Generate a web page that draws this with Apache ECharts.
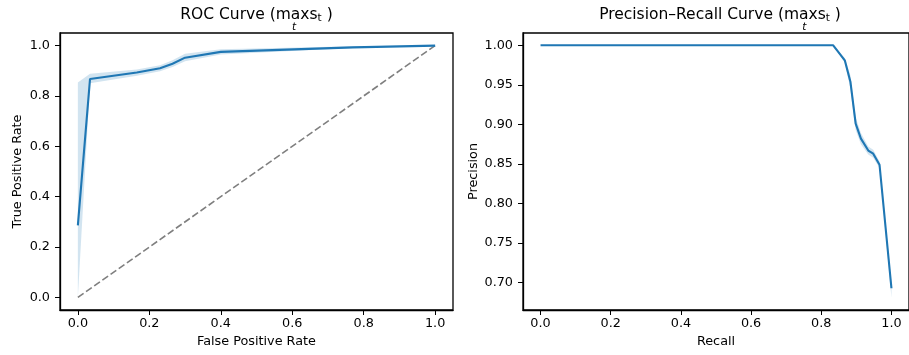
<!DOCTYPE html>
<html>
<head>
<meta charset="utf-8">
<script src="https://cdn.jsdelivr.net/npm/echarts@6/dist/echarts.min.js"></script>
<style>
  html, body {margin: 0; padding: 0; background: #fff;}
  #main {width: 909px; height: 355px;}
</style>
</head>
<body>
<div id="main"></div>
<script>
// ROC curve (mean with std band)
const rocFpr = [0, 0.034, 0.165, 0.23, 0.265, 0.30, 0.40, 0.77, 1.0];
const rocTpr = [0.286, 0.867, 0.893, 0.91, 0.928, 0.952, 0.975, 0.993, 1.0];
const rocLo  = [0.0, 0.85, 0.88, 0.898, 0.915, 0.938, 0.965, 0.99, 1.0];
const rocHi  = [0.853, 0.888, 0.905, 0.922, 0.942, 0.968, 0.985, 0.997, 1.0];
const chance = [[0, 0], [1, 1]];

// Precision-recall curve
const prRecall    = [0, 0.834, 0.867, 0.883, 0.898, 0.913, 0.934, 0.948, 0.966, 1.0];
const prPrecision = [1.0, 1.0, 0.981, 0.954, 0.901, 0.882, 0.867, 0.863, 0.849, 0.693];
const prLo        = [1.0, 1.0, 0.978, 0.945, 0.893, 0.875, 0.862, 0.858, 0.845, 0.681];
const prHi        = [1.0, 1.0, 0.984, 0.962, 0.909, 0.889, 0.872, 0.868, 0.853, 0.70];

const ticks01 = [0, 0.2, 0.4, 0.6, 0.8, 1.0];
const ticksPr = [0.70, 0.75, 0.80, 0.85, 0.90, 0.95, 1.00];

const blue = '#1f77b4';
const font = 'DejaVu Sans';
const fs = 12.8;

const zip = (a, b) => a.map((v, i) => [v, b[i]]);

function band(xs, lo, hi) {
  return function (params, api) {
    if (params.dataIndex !== 0) return;
    const pts = [];
    for (let i = 0; i < xs.length; i++) pts.push(api.coord([xs[i], hi[i]]));
    for (let i = xs.length - 1; i >= 0; i--) pts.push(api.coord([xs[i], lo[i]]));
    return {
      type: 'polygon',
      shape: {points: pts},
      style: {fill: blue, opacity: 0.2}
    };
  };
}

function valueAxis(idx, min, max, ticks, digits, name, nameGap, margin) {
  return {
    type: 'value',
    gridIndex: idx,
    min: min,
    max: max,
    name: name,
    nameLocation: 'middle',
    nameGap: nameGap,
    nameTextStyle: {color: '#000', fontSize: fs, fontFamily: font},
    axisLine: {show: true, onZero: false, lineStyle: {color: '#000', width: 1.3}},
    axisTick: {show: true, length: 5, customValues: ticks, lineStyle: {color: '#000', width: 1}},
    axisLabel: {
      customValues: ticks, color: '#000', fontSize: fs, fontFamily: font, margin: margin,
      formatter: v => v.toFixed(digits)
    },
    splitLine: {show: false}
  };
}

const titleRich = {
  a: {fontSize: 15.5, lineHeight: 19, fontFamily: font, fill: '#000'},
  s: {fontSize: 10.5, lineHeight: 15, verticalAlign: 'bottom', fontFamily: font, fill: '#000'}
};

const chart = echarts.init(document.getElementById('main'), null, {renderer: 'canvas'});
chart.setOption({
  animation: false,
  backgroundColor: '#fff',
  grid: [
    {left: 60, top: 33, width: 393, height: 277, show: true, borderColor: '#000', borderWidth: 1.3},
    {left: 523, top: 33, width: 394, height: 277, show: true, borderColor: '#000', borderWidth: 1.3}
  ],
  xAxis: [
    valueAxis(0, -0.05, 1.05, ticks01, 1, 'False Positive Rate', 24, 7),
    valueAxis(1, -0.05, 1.05, ticks01, 1, 'Recall', 24, 7)
  ],
  yAxis: [
    valueAxis(0, -0.05, 1.05, ticks01, 1, 'True Positive Rate', 36, 10),
    valueAxis(1, 0.6655, 1.0155, ticksPr, 2, 'Precision', 42, 10)
  ],
  graphic: [
    {type: 'text', z: 10, style: {x: 256.5, y: 5, align: 'center', verticalAlign: 'top',
      text: '{a|ROC Curve (max}{a|s}{s|t}{a| )}', rich: titleRich}},
    {type: 'text', z: 10, style: {x: 294, y: 27, align: 'center', verticalAlign: 'middle',
      text: 't', fontSize: 10.5, fontStyle: 'italic', fontFamily: font, fill: '#000'}},
    {type: 'text', z: 10, style: {x: 720, y: 5, align: 'center', verticalAlign: 'top',
      text: '{a|Precision–Recall Curve (max}{a|s}{s|t}{a| )}', rich: titleRich}},
    {type: 'text', z: 10, style: {x: 804.3, y: 27, align: 'center', verticalAlign: 'middle',
      text: 't', fontSize: 10.5, fontStyle: 'italic', fontFamily: font, fill: '#000'}}
  ],
  series: [
    {
      type: 'custom', xAxisIndex: 0, yAxisIndex: 0, clip: true, silent: true, z: 1,
      renderItem: band(rocFpr, rocLo, rocHi),
      data: rocFpr.map((x, i) => [x, rocLo[i], rocHi[i]]),
      encode: {x: 0, y: [1, 2]}
    },
    {
      type: 'line', xAxisIndex: 0, yAxisIndex: 0, data: chance, showSymbol: false, z: 2,
      lineStyle: {color: '#7f7f7f', width: 1.6, type: [7, 3]}
    },
    {
      type: 'line', xAxisIndex: 0, yAxisIndex: 0, data: zip(rocFpr, rocTpr), showSymbol: false, z: 3,
      lineStyle: {color: blue, width: 2.1}
    },
    {
      type: 'custom', xAxisIndex: 1, yAxisIndex: 1, clip: true, silent: true, z: 1,
      renderItem: band(prRecall, prLo, prHi),
      data: prRecall.map((x, i) => [x, prLo[i], prHi[i]]),
      encode: {x: 0, y: [1, 2]}
    },
    {
      type: 'line', xAxisIndex: 1, yAxisIndex: 1, data: zip(prRecall, prPrecision), showSymbol: false, z: 3,
      lineStyle: {color: blue, width: 2.1}
    }
  ]
});
</script>
</body>
</html>
